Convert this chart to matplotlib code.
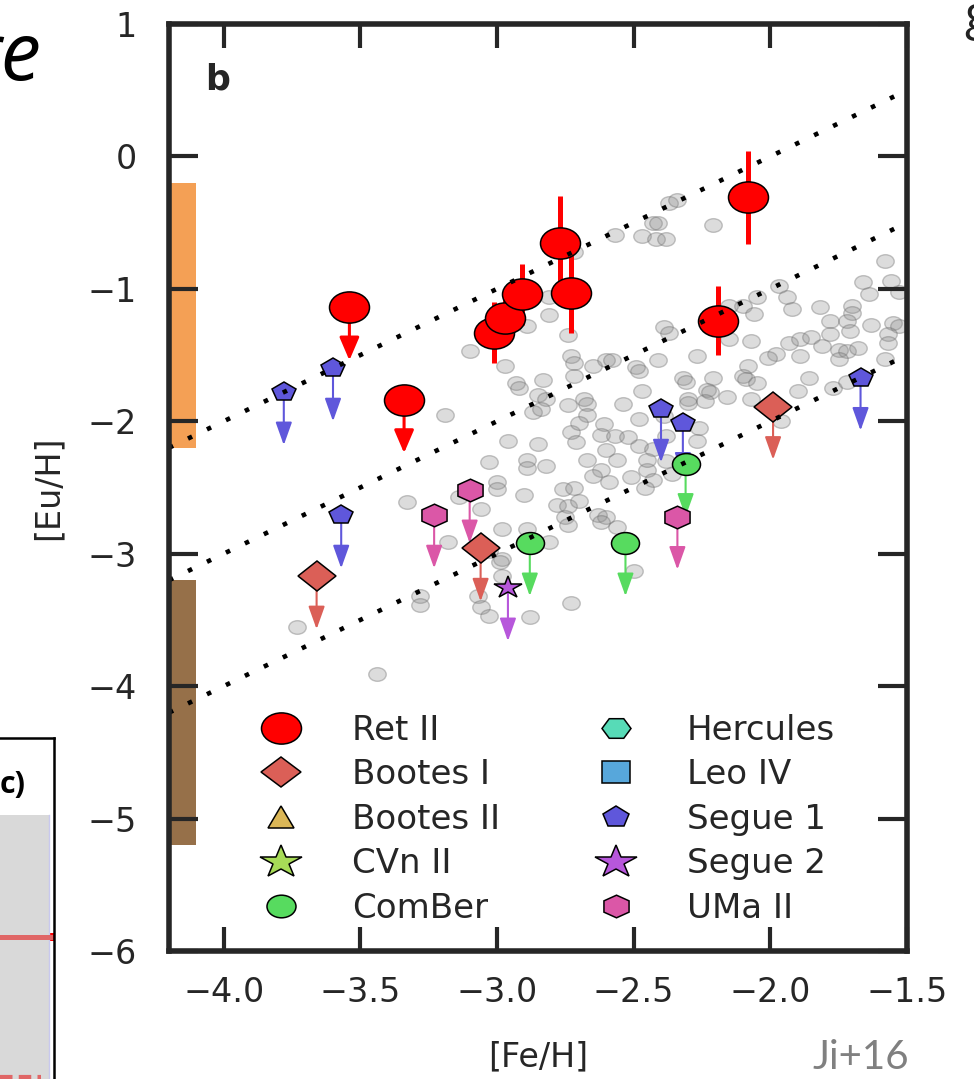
import colorsys
import numpy as np
import matplotlib
matplotlib.use("Agg")
import matplotlib.pyplot as plt
from matplotlib.markers import MarkerStyle
from matplotlib.transforms import Affine2D
from matplotlib.lines import Line2D
from matplotlib.patches import FancyArrowPatch, Rectangle

plt.rcParams['font.family'] = ['DejaVu Sans']

# ---------------- data ----------------
# Milky Way halo stars (grey cloud)
gray_fe = [-2.43, -2.41, -2.47, -2.42, -2.38, -2.57, -2.37, -2.81, -2.81, -2.89,
           -2.74, -3.10, -2.97, -2.73, -2.72, -2.65, -2.60, -2.58, -2.49, -2.48,
           -2.41, -2.39, -2.37, -2.72, -2.83, -2.93, -2.92, -2.85, -2.82, -2.68,
           -2.67, -2.54, -2.47, -2.74, -2.72,
           -2.34, -2.21, -1.58, -1.66, -1.56, -1.64, -1.53, -1.97, -1.94, -2.05,
           -1.92, -2.10, -2.06, -2.15, -1.82, -1.78, -1.70, -1.70, -1.72, -1.63,
           -1.71, -1.55, -1.53, -1.57, -1.57, -2.15, -2.07, -1.93, -1.89, -1.85,
           -1.81, -1.78, -1.75, -1.72, -1.68, -1.89, -1.98, -2.01, -1.75, -1.58,
           -2.27, -2.08, -2.32, -2.31, -2.21, -2.10, -2.09, -2.05, -1.86, -2.23,
           -2.22, -2.16, -1.90, -1.77, -1.72, -2.30, -2.07,
           -3.19, -2.96, -2.85, -2.87, -2.84, -2.67, -2.73, -2.71, -2.70, -2.61,
           -2.62, -2.57, -2.48, -2.48, -2.43, -2.52, -2.60, -2.56, -2.67, -2.62,
           -2.65, -2.59, -2.51, -2.45, -2.43, -2.46, -2.89, -2.89, -2.82, -3.03,
           -3.00, -3.00, -2.90, -2.76, -2.72, -2.78, -2.74, -2.70, -2.75, -2.74,
           -2.63, -2.60, -2.56, -2.62, -3.06, -3.14, -2.98, -2.89, -2.81, -3.18,
           -2.98, -2.99, -2.98, -3.03, -3.07, -3.06, -3.03, -2.88, -2.73, -2.50,
           -3.28, -3.28, -2.39, -2.45,
           -2.26, -2.27, -2.38, -2.38, -2.36, -1.96, -2.30, -2.24,
           -3.33, -3.73, -3.44]
gray_eu = [-0.50, -0.50, -0.60, -0.62, -0.62, -0.59, -0.35, -1.06, -1.20, -1.28,
           -1.35, -1.47, -1.58, -1.51, -1.56, -1.58, -1.54, -1.54, -1.59, -1.62,
           -1.54, -1.29, -1.33, -1.66, -1.69, -1.71, -1.75, -1.80, -1.83, -1.83,
           -1.87, -1.87, -1.77, -1.88, -0.72,
           -0.33, -0.52, -0.79, -0.95, -0.94, -1.04, -1.02, -0.98, -1.06, -1.06,
           -1.15, -1.13, -1.19, -1.13, -1.14, -1.24, -1.13, -1.18, -1.24, -1.27,
           -1.32, -1.26, -1.28, -1.34, -1.41, -1.38, -1.39, -1.41, -1.38, -1.36,
           -1.43, -1.34, -1.46, -1.47, -1.45, -1.51, -1.49, -1.52, -1.53, -1.53,
           -1.51, -1.58, -1.67, -1.70, -1.67, -1.66, -1.68, -1.71, -1.67, -1.76,
           -1.78, -1.82, -1.77, -1.75, -1.70, -1.83, -1.83,
           -1.95, -2.15, -2.17, -1.93, -1.91, -1.95, -2.08, -2.16, -2.01, -2.02,
           -2.10, -2.11, -1.98, -2.19, -2.21, -2.12, -2.22, -2.29, -2.29, -2.37,
           -2.41, -2.46, -2.42, -2.37, -2.44, -2.50, -2.29, -2.35, -2.34, -2.31,
           -2.46, -2.51, -2.56, -2.51, -2.50, -2.63, -2.64, -2.60, -2.72, -2.78,
           -2.71, -2.72, -2.80, -2.76, -2.66, -2.57, -2.81, -2.81, -2.91, -2.91,
           -3.04, -3.06, -3.17, -2.98, -3.32, -3.40, -3.47, -3.48, -3.37, -3.13,
           -3.32, -3.39, -1.96, -2.29,
           -2.05, -2.15, -2.11, -2.30, -2.40, -2.00, -1.86, -1.85,
           -2.61, -3.55, -3.91]

# Reticulum II (measurements with errors, or upper limits)
retii_fe = [-3.54, -3.34, -3.01, -2.97, -2.91, -2.77, -2.73, -2.19, -2.08]
retii_eu = [-1.14, -1.84, -1.33, -1.22, -1.04, -0.65, -1.03, -1.24, -0.31]
retii_err = [0.00, 0.00, 0.23, 0.20, 0.23, 0.35, 0.30, 0.26, 0.35]
retii_ul = [True, True, False, False, False, False, False, False, False]

# other ultra-faint dwarfs (all upper limits)
boo1_fe = [-3.66, -3.06, -1.99]
boo1_eu = [-3.17, -2.96, -1.89]
comber_fe = [-2.88, -2.53, -2.31]
comber_eu = [-2.92, -2.92, -2.32]
seg1_fe = [-3.78, -3.60, -3.57, -2.40, -2.32, -1.67]
seg1_eu = [-1.78, -1.60, -2.71, -1.91, -2.01, -1.67]
seg2_fe = [-2.96]
seg2_eu = [-3.26]
uma2_fe = [-3.23, -3.10, -2.34]
uma2_eu = [-2.71, -2.52, -2.72]
limit_len = 0.4

# bands at left edge and [Eu/Fe] reference lines
band_fe = [-4.2, -4.1]
band_orange = [-2.2, -0.2]
band_brown = [-5.2, -3.2]
line_offsets = [2.0, 1.0, 0.0]

legend_names = ['Ret II', 'Bootes I', 'Bootes II', 'CVn II', 'ComBer',
                'Hercules', 'Leo IV', 'Segue 1', 'Segue 2', 'UMa II']
x_ticks = [-4.0, -3.5, -3.0, -2.5, -2.0, -1.5]
y_ticks = [-6, -5, -4, -3, -2, -1, 0, 1]

# ---------------- style ----------------
PX = 0.72  # points per pixel at dpi 100
hues = [(i / 9 + 0.01) % 1 for i in range(9)]
pal = [colorsys.hls_to_rgb(h, 0.6, 0.65) for h in hues]
col = dict(zip(legend_names[1:], pal))
col['Ret II'] = '#ff0000'
TXT = '#262626'
FS = 24


def squash(m):
    return MarkerStyle(m, transform=Affine2D().scale(1.0, 0.78))


fig = plt.figure(figsize=(9.74, 10.79), dpi=100)
ax = fig.add_axes([169 / 974, (1079 - 951) / 1079, 738 / 974, 927 / 1079])
ax.set_xlim(-4.2, -1.5)
ax.set_ylim(-6, 1)
ax.set_axisbelow(False)

# bands
ax.bar(band_fe[0], band_orange[1] - band_orange[0], width=band_fe[1] - band_fe[0],
       bottom=band_orange[0], align='edge', color='#f4a055', zorder=2, lw=0)
ax.bar(band_fe[0], band_brown[1] - band_brown[0], width=band_fe[1] - band_fe[0],
       bottom=band_brown[0], align='edge', color='#967049', zorder=2, lw=0)

# grey cloud
ax.plot(gray_fe, gray_eu, ls='none', marker=squash('o'), ms=17.5 * PX,
        mfc=(0.55, 0.55, 0.55, 0.30), mec=(0.42, 0.42, 0.42, 0.38), mew=1.0, zorder=1)


def limit_arrows(xs, ys, color, lw, hw, hl):
    for x, y in zip(xs, ys):
        p = FancyArrowPatch((x, y), (x, y - limit_len),
                            arrowstyle=f'-|>,head_length={hl},head_width={hw}',
                            mutation_scale=1, color=color, lw=lw,
                            shrinkA=0, shrinkB=0, zorder=3)
        ax.add_patch(p)


# upper limit arrows
limit_arrows(boo1_fe, boo1_eu, col['Bootes I'], 1.5, 5, 14)
limit_arrows(comber_fe, comber_eu, col['ComBer'], 1.5, 5, 14)
limit_arrows(seg1_fe, seg1_eu, col['Segue 1'], 1.5, 5, 14)
limit_arrows(seg2_fe, seg2_eu, col['Segue 2'], 1.5, 5, 14)
limit_arrows(uma2_fe, uma2_eu, col['UMa II'], 1.5, 5, 14)
ul_fe = [f for f, u in zip(retii_fe, retii_ul) if u]
ul_eu = [e for e, u in zip(retii_eu, retii_ul) if u]
limit_arrows(ul_fe, ul_eu, 'red', 2.2, 6, 14)

# Ret II error bars
m_fe = [f for f, u in zip(retii_fe, retii_ul) if not u]
m_eu = [e for e, u in zip(retii_eu, retii_ul) if not u]
m_er = [r for r, u in zip(retii_err, retii_ul) if not u]
ax.errorbar(m_fe, m_eu, yerr=m_er, fmt='none', ecolor='red', elinewidth=3.6,
            capsize=0, zorder=3)

# markers
mk = dict(ls='none', mec='black', mew=1.1, zorder=4)
ax.plot(boo1_fe, boo1_eu, marker=squash('D'), ms=27 * PX, mfc=col['Bootes I'], **mk)
ax.plot(comber_fe, comber_eu, marker=squash('o'), ms=28 * PX, mfc=col['ComBer'], **mk)
ax.plot(seg1_fe, seg1_eu, marker=squash('p'), ms=25 * PX, mfc=col['Segue 1'], **mk)
ax.plot(seg2_fe, seg2_eu, marker=squash('*'), ms=30 * PX, mfc=col['Segue 2'], **mk)
ax.plot(uma2_fe, uma2_eu, marker=squash('h'), ms=29 * PX, mfc=col['UMa II'], **mk)
ax.plot(retii_fe, retii_eu, ls='none', marker=squash('o'), ms=40 * PX, mfc='red',
        mec='black', mew=1.1, zorder=5)

# dotted reference lines
xl = np.array(ax.get_xlim())
for off in line_offsets:
    ax.plot(xl, xl + off, color='black', lw=3.3, ls=(0, (1, 3.6)), zorder=6)

# axes styling
for s in ax.spines.values():
    s.set_linewidth(4.0)
    s.set_color(TXT)
    s.set_zorder(7)
ax.set_xticks(x_ticks)
ax.set_yticks(y_ticks)
ax.tick_params(direction='in', top=True, right=True, width=3, color=TXT,
               labelsize=FS, labelcolor=TXT)
ax.tick_params(axis='x', length=17, pad=18)
ax.tick_params(axis='y', length=21, pad=23)
ax.set_xlabel('[Fe/H]', fontsize=FS, color=TXT)
ax.set_ylabel('[Eu/H]', fontsize=FS, color=TXT)
ax.xaxis.set_label_coords(0.5, -0.097)
ax.yaxis.set_label_coords(-0.142, 0.5)
ax.text(0.049, 0.958, 'b', transform=ax.transAxes, fontsize=25, fontweight='bold',
        color=TXT, ha='left', va='top')

# legend
leg_markers = ['o', 'D', '^', '*', 'o', 'H', 's', 'p', '*', 'h']
leg_ms_px = [40, 28, 27, 44, 29, 29, 28, 28, 44, 29]
handles = [Line2D([], [], ls='none', marker=squash(m), ms=s * PX, mfc=col[n],
                  mec='black', mew=1.1)
           for n, m, s in zip(legend_names, leg_markers, leg_ms_px)]
ax.legend(handles, legend_names, ncol=2, frameon=False, fontsize=24.5,
          loc='lower left', bbox_to_anchor=(0.1241, 0.028), borderpad=0,
          borderaxespad=0, handlelength=1.2, handletextpad=1.5,
          columnspacing=2.78, labelspacing=0.34, labelcolor=TXT)

# ---------------- slide decorations around the chart ----------------
fig.text(42 / 974, 1 - 80 / 1079, 're', fontsize=58, style='italic',
         family=['Open Sans', 'DejaVu Sans'], color='black', ha='right', va='baseline')
fig.text(964 / 974, 1 - 30 / 1079, 'g', fontsize=34,
         family=['Open Sans', 'DejaVu Sans'], color='#222222', ha='left', va='baseline')
fig.text(909 / 974, 1 - 1069 / 1079, 'Ji+16', fontsize=29,
         family=['Lato', 'DejaVu Sans'], color='#808080', ha='right', va='baseline')

cax = fig.add_axes([0, 0, 54 / 974, (1079 - 738) / 1079])
cax.set_xlim(0, 1)
cax.set_ylim(0, 1)
cax.set_xticks([])
cax.set_yticks([])
cax.spines['left'].set_visible(False)
cax.spines['bottom'].set_visible(False)
cax.spines['top'].set_linewidth(1.8)
cax.spines['right'].set_linewidth(1.8)
cax.add_patch(Rectangle((0, 0), 0.91, 0.774, color='#d9d9d9', lw=0))
cax.plot([0.915, 0.915], [0, 0.774], color='#c8c8ee', lw=1)
cax.plot([0, 0.92], [0.416, 0.416], color='#e06666', lw=3.6)
cax.add_patch(Rectangle((0.91, 0.405), 0.09, 0.024, color='red', lw=0))
cax.plot([0, 0.75], [0.006, 0.006], color='#e06666', lw=3, ls=(0, (3, 1.5)))
cax.text(0.0, 0.862, 'c)', fontsize=22, fontweight='bold',
         family=['Open Sans', 'DejaVu Sans'], ha='left', va='center', color='black')

fig.savefig('out.png', dpi=100)
